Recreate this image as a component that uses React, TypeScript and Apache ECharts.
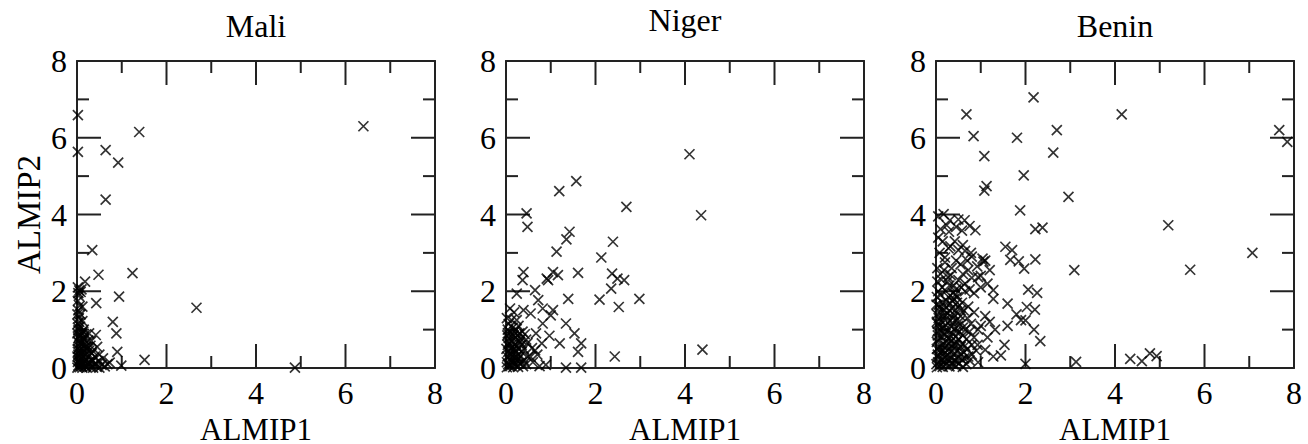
import React, { useEffect, useRef } from "react";
import * as echarts from "echarts";

const panelTitles = ["Mali", "Niger", "Benin"];
const xAxisName = "ALMIP1";
const yAxisName = "ALMIP2";
const axisMin = 0;
const axisMax = 8;
const axisStep = 2;
const majorTickValues = [2, 4, 6];
const minorTickValues = [1, 3, 5, 7];

const maliPoints: [number, number][] = [
  [0.02, 6.59], [0.02, 5.63], [1.39, 6.15], [0.64, 5.68], [0.92, 5.35], [0.64, 4.39],
  [6.40, 6.30], [0.34, 3.07], [0.48, 2.43], [1.24, 2.47], [0.18, 2.25], [0.94, 1.86],
  [0.43, 1.69], [2.67, 1.57], [0.80, 1.20], [0.88, 0.90], [0.42, 0.86], [0.90, 0.42],
  [1.51, 0.21], [0.99, 0.06], [0.73, 0.14], [4.87, 0.01],
  [0.02, 2.10], [0.05, 2.02], [0.03, 1.95], [0.08, 1.98], [0.04, 1.88], [0.10, 2.05],
  [0.02, 1.75], [0.06, 1.62], [0.03, 1.50], [0.08, 1.40], [0.04, 1.30], [0.12, 1.22],
  [0.02, 1.15], [0.07, 1.08], [0.15, 1.00], [0.03, 0.98], [0.10, 0.92], [0.20, 0.88],
  [0.05, 0.82], [0.14, 0.78], [0.25, 0.72], [0.02, 0.70], [0.09, 0.66], [0.18, 0.62],
  [0.30, 0.58], [0.05, 0.55], [0.12, 0.50], [0.22, 0.48], [0.35, 0.45], [0.02, 0.42],
  [0.08, 0.38], [0.16, 0.36], [0.28, 0.33], [0.40, 0.30], [0.04, 0.28], [0.11, 0.25],
  [0.20, 0.22], [0.33, 0.20], [0.48, 0.18], [0.02, 0.16], [0.07, 0.14], [0.14, 0.12],
  [0.25, 0.10], [0.38, 0.09], [0.55, 0.08], [0.03, 0.06], [0.10, 0.05], [0.18, 0.04],
  [0.30, 0.03], [0.45, 0.03], [0.62, 0.04], [0.01, 0.01], [0.06, 0.02], [0.12, 0.01],
  [0.22, 0.01], [0.36, 0.01], [0.50, 0.01], [0.04, 0.20], [0.15, 0.30], [0.26, 0.15],
  [0.06, 0.45], [0.03, 0.35], [0.20, 0.55], [0.32, 0.70], [0.27, 0.90], [0.45, 0.55],
  [0.50, 0.35], [0.58, 0.25], [0.68, 0.10], [0.01, 0.90], [0.01, 1.40], [0.05, 1.20],
  [0.12, 1.60], [0.02, 0.50],
  [0.01, 0.30], [0.05, 0.65], [0.09, 0.85], [0.13, 0.40], [0.17, 0.15], [0.21, 0.35],
  [0.24, 0.55], [0.29, 0.12], [0.33, 0.38], [0.06, 0.18], [0.11, 0.62], [0.16, 0.74],
  [0.19, 0.06], [0.27, 0.45], [0.03, 0.78], [0.08, 0.08], [0.35, 0.20], [0.42, 0.12],
  [0.14, 0.95], [0.02, 1.05],
];

const nigerPoints: [number, number][] = [
  [4.10, 5.57], [4.36, 3.98], [4.39, 0.48], [2.43, 0.30], [1.57, 4.87], [1.19, 4.61],
  [2.69, 4.20], [0.46, 4.03], [0.48, 3.68], [1.42, 3.55], [1.35, 3.35], [1.13, 3.03],
  [2.39, 3.29], [2.13, 2.88], [0.39, 2.50], [0.37, 2.29], [0.94, 2.29], [1.05, 2.50],
  [1.16, 2.42], [0.91, 2.33], [1.61, 2.48], [2.37, 2.46], [2.49, 2.33], [2.64, 2.29],
  [2.35, 2.07], [2.09, 1.78], [2.52, 1.59], [2.98, 1.80], [1.39, 1.80], [0.24, 1.94],
  [0.65, 2.03], [0.72, 1.77], [0.09, 1.55], [0.39, 1.51], [0.82, 1.55], [1.05, 1.51],
  [1.00, 1.37], [0.55, 1.42], [0.24, 1.25], [0.82, 1.16], [1.34, 1.16], [0.67, 0.90],
  [1.53, 0.90], [0.97, 0.84], [1.20, 0.64], [1.68, 0.64], [1.61, 0.42], [1.34, 0.01],
  [1.68, 0.01], [0.89, 0.08], [0.55, 0.29], [0.65, 0.46], [0.80, 0.64], [0.45, 0.74],
  [0.02, 0.02], [0.05, 0.10], [0.10, 0.05], [0.15, 0.15], [0.08, 0.22], [0.20, 0.08],
  [0.25, 0.20], [0.03, 0.30], [0.12, 0.35], [0.18, 0.28], [0.30, 0.12], [0.05, 0.42],
  [0.22, 0.40], [0.32, 0.32], [0.10, 0.50], [0.15, 0.55], [0.28, 0.50], [0.04, 0.60],
  [0.20, 0.62], [0.12, 0.70], [0.35, 0.60], [0.25, 0.75], [0.06, 0.78], [0.18, 0.85],
  [0.30, 0.90], [0.10, 0.92], [0.22, 1.00], [0.04, 1.00], [0.15, 1.05], [0.35, 0.42],
  [0.40, 0.20], [0.02, 0.15], [0.08, 0.62], [0.27, 0.03], [0.38, 0.05], [0.45, 0.10],
  [0.50, 0.30], [0.40, 0.50], [0.13, 0.15], [0.03, 0.85], [0.20, 0.45], [0.09, 0.33],
  [0.33, 0.75], [0.16, 0.02], [0.06, 1.15], [0.28, 1.10], [0.42, 0.88], [0.48, 0.65],
  [0.60, 0.15], [0.70, 0.35], [0.75, 0.05], [0.58, 0.52],
  [0.01, 0.50], [0.07, 0.68], [0.13, 0.82], [0.19, 0.95], [0.24, 0.58], [0.29, 0.25],
  [0.34, 0.15], [0.11, 0.42], [0.17, 0.48], [0.23, 0.30], [0.07, 0.05], [0.21, 0.13],
  [0.31, 0.68], [0.14, 0.22], [0.04, 0.90], [0.26, 0.85], [0.37, 0.95], [0.02, 1.30],
  [0.12, 1.25], [0.18, 1.45],
];

const beninPoints: [number, number][] = [
  [2.18, 7.05], [0.68, 6.61], [4.15, 6.61], [0.84, 6.04], [1.81, 6.00], [2.70, 6.20],
  [7.67, 6.20], [7.85, 5.89], [1.08, 5.52], [2.62, 5.61], [1.96, 5.02], [1.13, 4.74],
  [1.08, 4.62], [2.96, 4.46], [1.88, 4.11], [5.19, 3.72], [2.22, 3.62], [2.38, 3.66],
  [7.07, 3.00], [5.68, 2.56], [3.09, 2.55], [2.22, 2.83], [1.97, 2.59], [2.06, 2.04],
  [2.26, 1.96], [2.03, 1.59], [2.21, 1.52], [2.00, 1.24], [2.19, 1.00], [2.33, 0.70],
  [2.00, 0.11], [3.13, 0.16], [4.34, 0.24], [4.60, 0.18], [4.78, 0.38], [4.93, 0.31],
  [1.55, 3.16], [1.70, 3.07], [1.66, 2.82], [1.85, 2.78], [1.60, 1.68], [1.80, 1.40],
  [1.90, 1.25], [1.60, 1.10], [1.53, 0.60], [1.45, 0.33], [1.20, 1.20], [1.32, 1.00],
  [1.00, 1.10], [1.15, 0.80], [0.93, 0.60], [1.28, 2.03], [1.28, 1.80], [1.10, 0.47],
  [0.94, 0.15], [1.28, 0.30], [0.85, 1.45], [0.72, 1.60], [1.10, 1.35], [0.94, 1.00],
  [0.17, 4.01], [0.31, 3.85], [0.50, 3.87], [0.64, 3.85], [0.88, 3.59], [0.10, 3.62],
  [0.29, 3.55], [0.45, 3.68], [0.75, 3.70], [0.05, 3.95], [0.24, 3.72], [0.58, 3.58],
  [0.32, 3.17], [0.28, 3.12], [0.60, 3.20], [0.78, 3.00], [1.04, 2.85], [1.10, 2.80],
  [0.92, 2.65], [0.70, 2.80], [0.45, 2.80], [0.20, 2.88], [0.10, 2.45], [0.33, 2.42],
  [0.60, 2.45], [0.80, 2.35], [1.00, 2.40], [1.20, 2.55], [0.50, 3.07], [0.80, 2.90],
  [1.06, 2.77], [0.72, 2.55], [0.94, 2.37], [0.20, 2.75], [0.27, 2.37], [0.50, 2.29],
  [0.65, 2.00], [1.00, 2.10], [1.15, 2.20],
  [0.02, 0.02], [0.08, 0.05], [0.15, 0.03], [0.22, 0.08], [0.30, 0.04], [0.38, 0.10],
  [0.45, 0.05], [0.52, 0.12], [0.60, 0.03], [0.05, 0.15], [0.12, 0.20], [0.20, 0.18],
  [0.28, 0.22], [0.35, 0.25], [0.42, 0.20], [0.50, 0.28], [0.58, 0.22], [0.03, 0.28],
  [0.68, 0.10], [0.75, 0.20], [0.04, 0.35], [0.10, 0.40], [0.18, 0.38], [0.25, 0.45],
  [0.33, 0.42], [0.40, 0.50], [0.48, 0.45], [0.55, 0.55], [0.62, 0.40], [0.07, 0.55],
  [0.14, 0.60], [0.22, 0.58], [0.30, 0.65], [0.38, 0.62], [0.46, 0.68], [0.02, 0.68],
  [0.70, 0.50], [0.80, 0.35], [0.05, 0.75], [0.12, 0.80], [0.20, 0.85], [0.28, 0.78],
  [0.36, 0.90], [0.44, 0.82], [0.52, 0.95], [0.60, 0.85], [0.03, 0.95], [0.10, 1.00],
  [0.18, 1.05], [0.26, 0.98], [0.34, 1.08], [0.42, 1.02], [0.50, 1.10], [0.68, 0.75],
  [0.75, 0.95], [0.04, 1.15], [0.12, 1.20], [0.20, 1.25], [0.30, 1.22], [0.38, 1.30],
  [0.46, 1.25], [0.55, 1.35], [0.02, 1.40], [0.10, 1.45], [0.18, 1.50], [0.26, 1.42],
  [0.35, 1.55], [0.43, 1.50], [0.50, 1.60], [0.06, 1.65], [0.15, 1.70], [0.24, 1.75],
  [0.32, 1.68], [0.40, 1.80], [0.48, 1.85], [0.02, 1.85], [0.10, 1.90], [0.62, 1.50],
  [0.58, 1.70], [0.05, 2.00], [0.14, 2.10], [0.22, 2.00], [0.30, 2.15], [0.38, 1.95],
  [0.45, 2.05], [0.03, 2.25], [0.12, 2.30], [0.56, 2.10], [0.65, 2.20], [0.85, 1.95],
  [0.75, 2.05],
  [0.01, 0.10], [0.06, 0.30], [0.13, 0.10], [0.19, 0.27], [0.26, 0.33], [0.33, 0.12],
  [0.40, 0.35], [0.47, 0.15], [0.55, 0.38], [0.63, 0.25], [0.02, 0.50], [0.09, 0.48],
  [0.16, 0.47], [0.23, 0.68], [0.31, 0.52], [0.36, 0.72], [0.43, 0.60], [0.51, 0.75],
  [0.58, 0.62], [0.65, 0.58], [0.04, 0.85], [0.08, 1.10], [0.15, 0.92], [0.22, 1.12],
  [0.29, 0.88], [0.37, 1.18], [0.45, 0.95], [0.53, 1.22], [0.60, 1.05], [0.06, 1.30],
  [0.14, 1.35], [0.22, 1.38], [0.30, 1.50], [0.40, 1.40], [0.47, 1.70], [0.55, 1.50],
  [0.08, 1.58], [0.18, 1.62], [0.28, 1.85], [0.36, 1.75], [0.44, 1.92], [0.70, 1.30],
  [0.78, 1.15], [0.85, 0.80], [0.90, 0.45], [0.66, 1.00], [0.72, 0.30], [0.80, 0.60],
  [0.02, 1.20], [0.01, 1.65],
  [0.03, 2.60], [0.08, 3.00], [0.15, 3.30], [0.05, 3.40], [0.35, 2.60], [0.42, 3.30],
  [0.55, 2.70], [0.65, 3.05], [0.18, 2.55], [0.40, 2.15], [0.25, 2.25],
];

const panelPoints = [maliPoints, nigerPoints, beninPoints];

export default function App() {
  const ref = useRef<HTMLDivElement>(null);

  useEffect(() => {
    if (!ref.current) return;
    const chart = echarts.init(ref.current, undefined, { renderer: "svg" });

    const gridLefts = [77, 506, 936];
    const gridTop = 61;
    const gridW = 358;
    const gridH = 307;
    const titleY = [26, 20, 26];
    const ink = "#222";
    const font = "Liberation Serif";
    const majorLen = 24;
    const minorLen = 12;

    const tickData = [
      ...majorTickValues.map((v) => [v, 1]),
      ...minorTickValues.map((v) => [v, 0]),
    ];

    const baseAxis = {
      type: "value",
      min: axisMin,
      max: axisMax,
      interval: axisStep,
      splitLine: { show: false },
      axisLine: { show: true, onZero: false, lineStyle: { color: ink, width: 2 } },
      axisTick: { show: false },
      minorTick: { show: false },
    };

    const grid: any[] = [];
    const xAxis: any[] = [];
    const yAxis: any[] = [];
    const series: any[] = [];
    const graphic: any[] = [];

    panelTitles.forEach((t, i) => {
      grid.push({
        left: gridLefts[i],
        top: gridTop,
        width: gridW,
        height: gridH,
        outerBoundsMode: "none",
      });
      xAxis.push({
        ...baseAxis,
        gridIndex: i,
        position: "bottom",
        name: xAxisName,
        nameLocation: "middle",
        nameGap: 39,
        nameTextStyle: { fontFamily: font, fontSize: 31, lineHeight: 25, color: "#000" },
        axisLabel: {
          show: true,
          margin: 9,
          fontFamily: font,
          fontSize: 32,
          color: "#000",
          showMinLabel: true,
          showMaxLabel: true,
        },
      });
      xAxis.push({
        ...baseAxis,
        gridIndex: i,
        position: "top",
        axisLabel: { show: false },
      });
      yAxis.push({
        ...baseAxis,
        gridIndex: i,
        position: "left",
        name: i === 0 ? yAxisName : "",
        nameLocation: "middle",
        nameGap: 32,
        nameTextStyle: { fontFamily: font, fontSize: 33, color: "#000" },
        axisLabel: {
          show: true,
          margin: 10,
          fontFamily: font,
          fontSize: 32,
          color: "#000",
          showMinLabel: true,
          showMaxLabel: true,
        },
      });
      yAxis.push({
        ...baseAxis,
        gridIndex: i,
        position: "right",
        axisLabel: { show: false },
      });
      series.push({
        type: "scatter",
        name: t,
        xAxisIndex: i * 2,
        yAxisIndex: i * 2,
        data: panelPoints[i],
        symbol: "path://M0,0L10,10M10,0L0,10",
        symbolSize: 10,
        itemStyle: { color: "transparent", borderColor: "#000", borderWidth: 1.7 },
        emphasis: { disabled: true },
        silent: true,
        clip: false,
      });
      // inside ticks on all four sides, placed through the axes' scales
      series.push({
        type: "custom",
        xAxisIndex: i * 2,
        yAxisIndex: i * 2,
        data: tickData,
        silent: true,
        clip: false,
        renderItem: (_params: any, api: any) => {
          const v = api.value(0);
          const len = api.value(1) === 1 ? majorLen : minorLen;
          const b = api.coord([v, axisMin]);
          const tp = api.coord([v, axisMax]);
          const l = api.coord([axisMin, v]);
          const r = api.coord([axisMax, v]);
          const style = { stroke: ink, lineWidth: 2 };
          return {
            type: "group",
            children: [
              { type: "line", shape: { x1: b[0], y1: b[1], x2: b[0], y2: b[1] - len }, style },
              { type: "line", shape: { x1: tp[0], y1: tp[1], x2: tp[0], y2: tp[1] + len }, style },
              { type: "line", shape: { x1: l[0], y1: l[1], x2: l[0] + len, y2: l[1] }, style },
              { type: "line", shape: { x1: r[0], y1: r[1], x2: r[0] - len, y2: r[1] }, style },
            ],
          };
        },
      });
      graphic.push({
        type: "text",
        x: gridLefts[i] + gridW / 2,
        y: titleY[i],
        style: {
          text: t,
          fontFamily: font,
          fontSize: 32,
          fill: "#000",
          align: "center",
          verticalAlign: "middle",
        },
      });
    });

    chart.setOption({
      animation: false,
      backgroundColor: "#fff",
      grid,
      xAxis,
      yAxis,
      series,
      graphic,
    });

    return () => chart.dispose();
  }, []);

  return (
    <div
      ref={ref}
      style={{ position: "absolute", left: 0, top: 0, width: 1308, height: 444 }}
    />
  );
}
